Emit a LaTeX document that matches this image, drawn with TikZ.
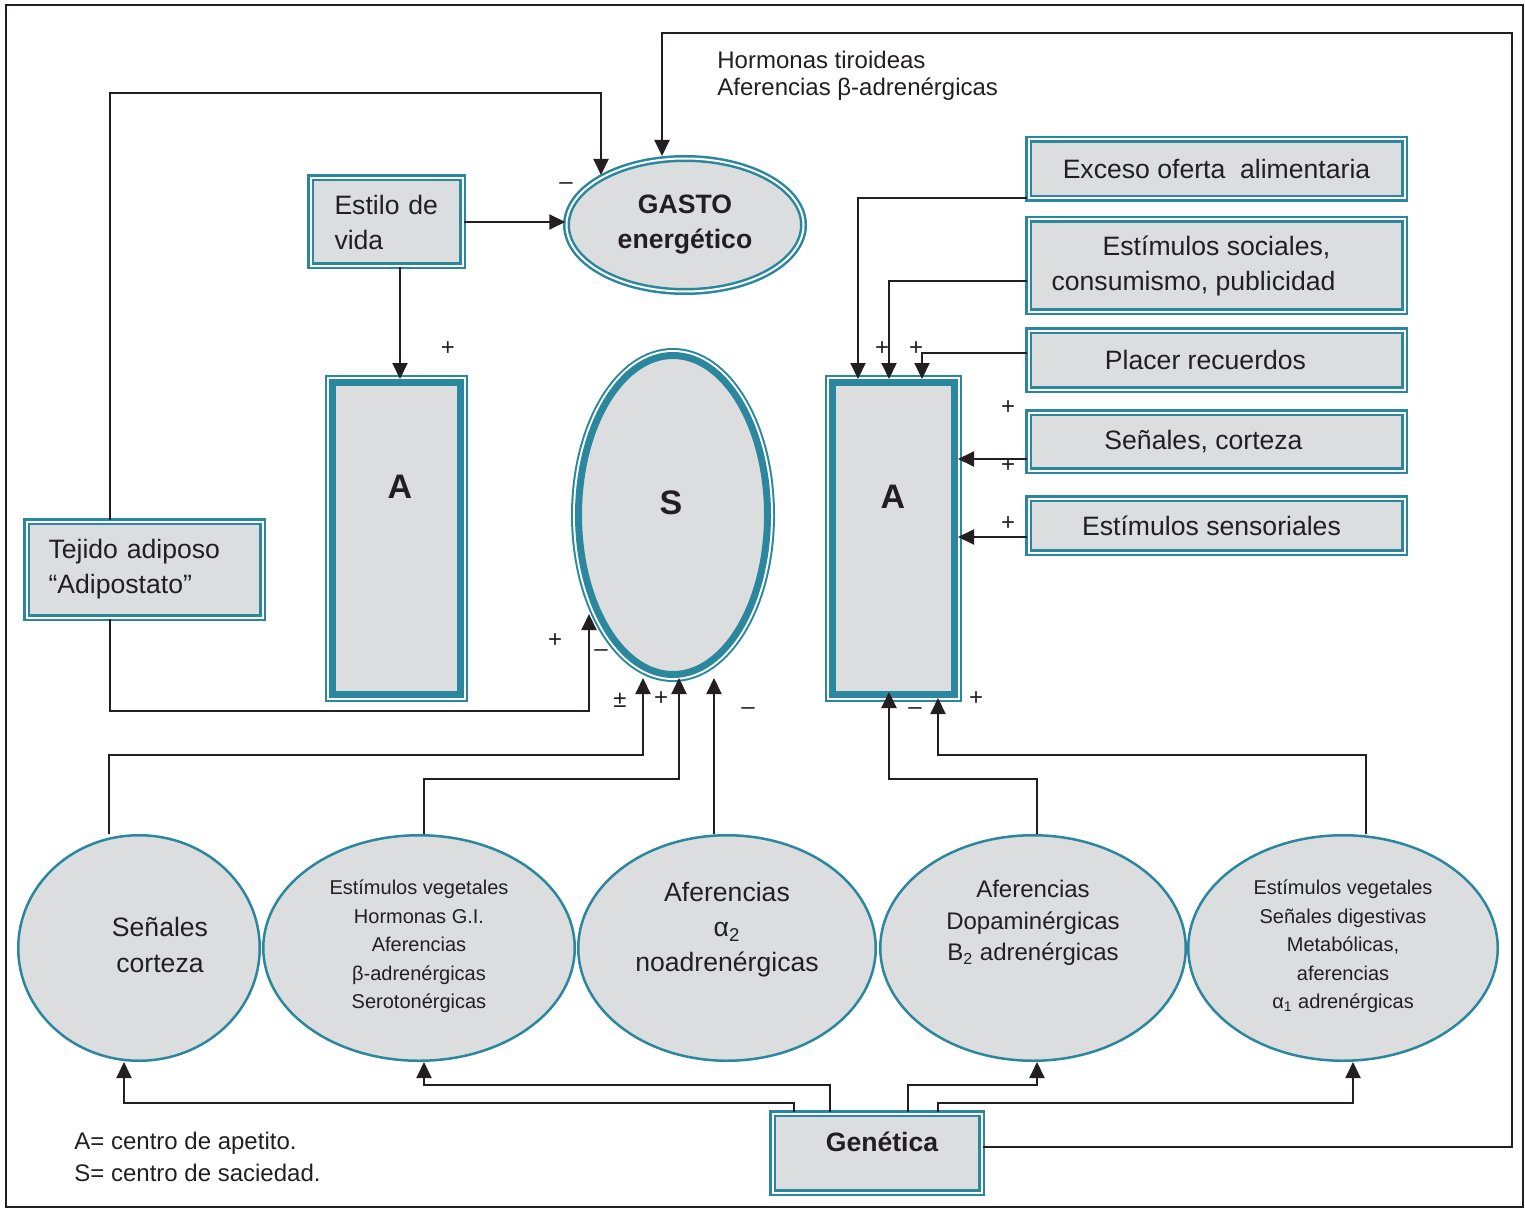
\documentclass[tikz,border=0pt]{standalone}
\usepackage{fontspec}
\setmainfont{Liberation Sans}
\usetikzlibrary{shapes.geometric,arrows.meta,calc}
\definecolor{teal2}{RGB}{42,135,158}
\definecolor{boxgray}{RGB}{220,221,223}
\definecolor{ink}{RGB}{35,31,32}
\newcommand\fsMain{\fontsize{13.3}{17.5}\selectfont}
\newcommand\fsSmall{\fontsize{10}{14.2}\selectfont}
\newcommand\fsNote{\fontsize{12}{13.5}\selectfont}
\newcommand\fsBig{\fontsize{17}{20}\selectfont\bfseries}
\newcommand\fsSign{\fontsize{12}{14}\selectfont}
\begin{document}
\begin{tikzpicture}[x=0.5pt,y=-0.5pt,
  dbox/.style={rectangle, fill=boxgray, draw=teal2, line width=1.25pt, double=white, double distance=1pt, inner sep=0pt, text=ink, font=\fsMain, align=center},
  tbox/.style={rectangle, fill=boxgray, draw=teal2, line width=3.5pt, inner sep=0pt, preaction={draw=teal2, line width=7.5pt}, preaction={draw=white, line width=5.5pt}},
  bell/.style={ellipse, fill=boxgray, draw=teal2, line width=1.25pt, inner sep=0pt},
  arr/.style={draw=ink, line width=1pt, -{Triangle[length=8pt,width=7.5pt]}},
  sign/.style={font=\fsSign, text=ink, inner sep=0pt},
  lbl/.style={text=ink, inner sep=0pt, align=center}]
\useasboundingbox (0,0) rectangle (1525,1209);
\draw[ink, line width=1pt] (6,5) rectangle (1523,1207);

% top boxes
\node[dbox, minimum width=76pt, minimum height=44pt, text width=52pt, align=left] (estilo) at (386.5,222) {Estilo de\\vida};
\node[dbox, ellipse, minimum width=118.5pt, minimum height=66.5pt, font=\fsMain\bfseries] (gasto) at (685,225) {GASTO\\energético};
\node[lbl, font=\fsNote, align=left, anchor=west] (horm) at (717,76) {Hormonas tiroideas\\Aferencias β-adrenérgicas};

% centres
\node[tbox, minimum width=64pt, minimum height=156pt] (A1) at (396.5,538.5) {};
\node[lbl, font=\fsBig] (A1txt) at (400,487) {A};
\node[tbox, ellipse, minimum width=94.5pt, minimum height=159.5pt] (S) at (673,515) {};
\node[lbl, font=\fsBig] (Stxt) at (671,503) {S};
\node[tbox, minimum width=61pt, minimum height=156pt] (A2) at (893.5,538.5) {};
\node[lbl, font=\fsBig] (A2txt) at (893,497) {A};

% right boxes
\node[dbox, minimum width=188pt, minimum height=29.5pt] (exceso) at (1216.5,169) {Exceso oferta~ alimentaria};
\node[dbox, minimum width=188pt, minimum height=46pt] (social) at (1216.5,265.5) {Estímulos sociales,\\consumismo, publicidad\hspace*{23pt}};
\node[dbox, minimum width=188pt, minimum height=29.5pt] (placer) at (1216.5,360) {Placer recuerdos\hspace*{11pt}};
\node[dbox, minimum width=188pt, minimum height=29pt] (corteza) at (1216.5,441.5) {Señales, corteza\hspace*{13pt}};
\node[dbox, minimum width=188pt, minimum height=27pt] (sensor) at (1216.5,525.5) {Estímulos sensoriales\hspace*{5pt}};

% left box
\node[dbox, minimum width=118pt, minimum height=48pt, text width=96pt, align=left] (tej) at (144.5,569.5) {Tejido adiposo\\“Adipostato”};

% bottom ellipses
\node[bell, minimum width=120.75pt, minimum height=112.75pt] (e1) at (139,948) {};
\node[bell, minimum width=155.75pt, minimum height=112.75pt] (e2) at (419,948) {};
\node[bell, minimum width=148.75pt, minimum height=112.75pt] (e3) at (727,948) {};
\node[bell, minimum width=152.75pt, minimum height=112.75pt] (e4) at (1033,948) {};
\node[bell, minimum width=154.75pt, minimum height=112.75pt] (e5) at (1343,948) {};
\node[lbl, font=\fontsize{13.3}{18}\selectfont] (e1t) at (160,945) {Señales\\corteza};
\node[lbl, font=\fsSmall] (e2t) at (419,946.5) {Estímulos vegetales\\Hormonas G.I.\\Aferencias\\β-adrenérgicas\\Serotonérgicas};
\node[lbl, font=\fontsize{13.3}{17.5}\selectfont] (e3t) at (727,930) {Aferencias\\α\textsubscript{2}\\noadrenérgicas};
\node[lbl, font=\fontsize{12}{15.75}\selectfont] (e4t) at (1033,923) {Aferencias\\Dopaminérgicas\\B\textsubscript{2} adrenérgicas};
\node[lbl, font=\fsSmall] (e5t) at (1343,946.5) {Estímulos vegetales\\Señales digestivas\\Metabólicas,\\aferencias\\α\textsubscript{1} adrenérgicas};

% genetics and legend
\node[dbox, minimum width=104.5pt, minimum height=39.5pt, font=\fsMain\bfseries, text height=9.5pt, text depth=11pt] (gen) at (877,1153) {\hspace*{5pt}Genética};
\node[lbl, font=\fontsize{12}{16}\selectfont, align=left, anchor=west] (leg) at (74,1157) {A= centro de apetito.\\S= centro de saciedad.};

% connectors
\draw[arr] ([xshift=-17.25pt]tej.north) |- (601,93) -- (601,175);
\draw[arr] ([yshift=3pt]gen.east) -| (1512,33) -| (662,156);
\draw[arr] (estilo.east) -- (estilo.east -| gasto.west);
\draw[arr] ([xshift=6.75pt]estilo.south) -- ([xshift=1.75pt]A1.north);
\draw[arr] ([yshift=-14.5pt]exceso.west) -| ([xshift=-17.75pt]A2.north);
\draw[arr] ([yshift=-7.75pt]social.west) -| ([xshift=-2.25pt]A2.north);
\draw[arr] ([yshift=3.5pt]placer.west) -| ([xshift=14.25pt]A2.north);
\coordinate (k1) at ([yshift=-8.75pt]corteza.west);
\draw[arr] (k1) -- (k1 -| A2.east);
\coordinate (k2) at ([yshift=-5.75pt]sensor.west);
\draw[arr] (k2) -- (k2 -| A2.east);
\draw[arr] ([xshift=-17.25pt]tej.south) |- (589,711) -- (589,614);
\draw[arr] ([xshift=-15pt]e1.north) |- (643,755) -- ([xshift=-15pt]S.south);
\draw[arr] ([xshift=2.5pt]e2.north) |- (679,779) -- ([xshift=3pt]S.south);
\draw[arr] ([xshift=-6.5pt]e3.north) -- ([xshift=20.5pt]S.south);
\draw[arr] ([xshift=2pt]e4.north) |- (889,779) -- ([xshift=-2.25pt,yshift=3pt]A2.south);
\draw[arr] ([xshift=11.5pt]e5.north) |- (938,755) -- ([xshift=22.25pt]A2.south);
\draw[arr] ([xshift=-41.5pt]gen.north) |- (124,1103) -- ([xshift=-7.5pt]e1.south);
\draw[arr] ([xshift=-23.5pt]gen.north) |- (424,1085) -- ([xshift=2.5pt]e2.south);
\draw[arr] ([xshift=15.5pt]gen.north) |- (1037,1085) -- ([xshift=2pt]e4.south);
\draw[arr] ([xshift=30.5pt]gen.north) |- (1353,1103) -- ([xshift=5pt]e5.south);

% signs
\node[sign] (s1) at (566,186) {–};
\node[sign] (s2) at (448,349) {+};
\node[sign] (s3) at (882,349) {+};
\node[sign] (s4) at (916,349) {+};
\node[sign] (s5) at (1008,408) {+};
\node[sign] (s6) at (1008,466) {+};
\node[sign] (s7) at (1008,524) {+};
\node[sign] (s8) at (555,641) {+};
\node[sign] (s9) at (601,653) {–};
\node[sign] (s10) at (620,700) {±};
\node[sign] (s11) at (661,699) {+};
\node[sign] (s12) at (748,711) {–};
\node[sign] (s13) at (915,711) {–};
\node[sign] (s14) at (976,699) {+};
\end{tikzpicture}
\end{document}
